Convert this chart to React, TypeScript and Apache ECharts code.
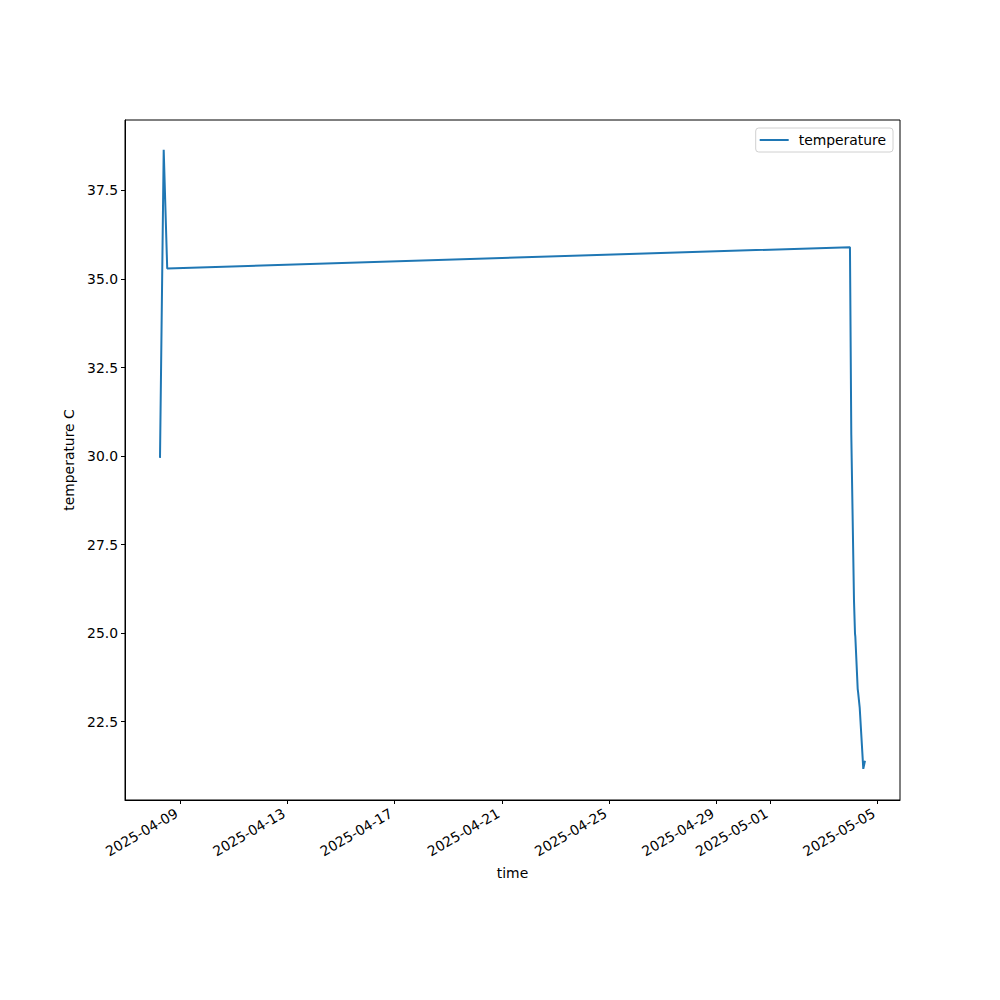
import React, { useEffect, useRef } from "react";
import * as echarts from "echarts";

const times: string[] = [
  "2025-04-08T06:06",
  "2025-04-08T09:25",
  "2025-04-08T12:33",
  "2025-05-03T23:31",
  "2025-05-04T00:43",
  "2025-05-04T03:08",
  "2025-05-04T04:02",
  "2025-05-04T04:20",
  "2025-05-04T06:26",
  "2025-05-04T06:45",
  "2025-05-04T08:14",
  "2025-05-04T11:27",
  "2025-05-04T12:58",
];
const temperatures: number[] = [
  29.95, 38.65, 35.3, 35.9, 30.6, 25.92, 24.99, 24.9, 23.43, 23.35, 22.9, 21.17, 21.4,
];
const xTickDates: string[] = [
  "2025-04-09",
  "2025-04-13",
  "2025-04-17",
  "2025-04-21",
  "2025-04-25",
  "2025-04-29",
  "2025-05-01",
  "2025-05-05",
];
const yTicks: number[] = [22.5, 25.0, 27.5, 30.0, 32.5, 35.0, 37.5];
const xRange: string[] = ["2025-04-06T22:47", "2025-05-05T20:18"];
const yRange: number[] = [20.29, 39.49];

const toMs = (s: string) => new Date((s.length === 10 ? s + "T00:00" : s) + ":00Z").getTime();
const pad = (n: number) => (n < 10 ? "0" + n : "" + n);
const fmtDate = (v: number) => {
  const d = new Date(v);
  return d.getUTCFullYear() + "-" + pad(d.getUTCMonth() + 1) + "-" + pad(d.getUTCDate());
};

const FONT = "DejaVu Sans";

export default function App() {
  const ref = useRef<HTMLDivElement>(null);
  useEffect(() => {
    if (!ref.current) return;
    const chart = echarts.init(ref.current, undefined, { renderer: "svg" });
    const xTicks = xTickDates.map(toMs);
    chart.setOption({
      animation: false,
      backgroundColor: "#fff",
      textStyle: { fontFamily: FONT },
      grid: {
        left: 125,
        top: 120,
        width: 775,
        height: 680,
        show: true,
        borderColor: "#000",
        borderWidth: 1,
        containLabel: false,
      },
      legend: {
        right: 107,
        top: 128,
        orient: "vertical",
        backgroundColor: "#fff",
        borderColor: "#d0d0d0",
        borderWidth: 1,
        borderRadius: 3,
        padding: [5, 7, 5, 4],
        itemWidth: 29,
        itemHeight: 2,
        itemGap: 10,
        textStyle: { fontFamily: FONT, fontSize: 13.9, color: "#000", padding: [0, 0, 0, 5] },
        data: [{ name: "temperature", icon: "rect" }],
      },
      xAxis: {
        type: "value",
        min: toMs(xRange[0]),
        max: toMs(xRange[1]),
        name: "time",
        nameLocation: "middle",
        nameGap: 66,
        nameTextStyle: { fontFamily: FONT, fontSize: 13.9, color: "#000" },
        splitLine: { show: false },
        axisLine: { show: true, lineStyle: { color: "#000", width: 1 } },
        axisTick: {
          show: true,
          length: 4,
          lineStyle: { color: "#000", width: 1 },
          customValues: xTicks,
        },
        axisLabel: {
          show: true,
          rotate: 30,
          margin: 10,
          padding: [0, 4, 0, 0],
          fontFamily: FONT,
          fontSize: 13.9,
          color: "#000",
          customValues: xTicks,
          formatter: (v: number) => fmtDate(v),
          hideOverlap: false,
        },
      },
      yAxis: {
        type: "value",
        min: yRange[0],
        max: yRange[1],
        name: "temperature C",
        nameLocation: "middle",
        nameGap: 48,
        nameRotate: 90,
        nameTextStyle: { fontFamily: FONT, fontSize: 13.9, color: "#000" },
        splitLine: { show: false },
        axisLine: { show: true, lineStyle: { color: "#000", width: 1 } },
        axisTick: {
          show: true,
          length: 4,
          lineStyle: { color: "#000", width: 1 },
          customValues: yTicks,
        },
        axisLabel: {
          show: true,
          margin: 7,
          fontFamily: FONT,
          fontSize: 13.9,
          color: "#000",
          customValues: yTicks,
          formatter: (v: number) => v.toFixed(1),
        },
      },
      series: [
        {
          name: "temperature",
          type: "line",
          data: times.map((t, i) => [toMs(t), temperatures[i]]),
          symbol: "none",
          showSymbol: false,
          lineStyle: { color: "#1f77b4", width: 2 },
          itemStyle: { color: "#1f77b4" },
        },
      ],
    });
    return () => chart.dispose();
  }, []);
  return <div ref={ref} style={{ width: 1000, height: 1000, position: "absolute", left: 0, top: 0 }} />;
}
